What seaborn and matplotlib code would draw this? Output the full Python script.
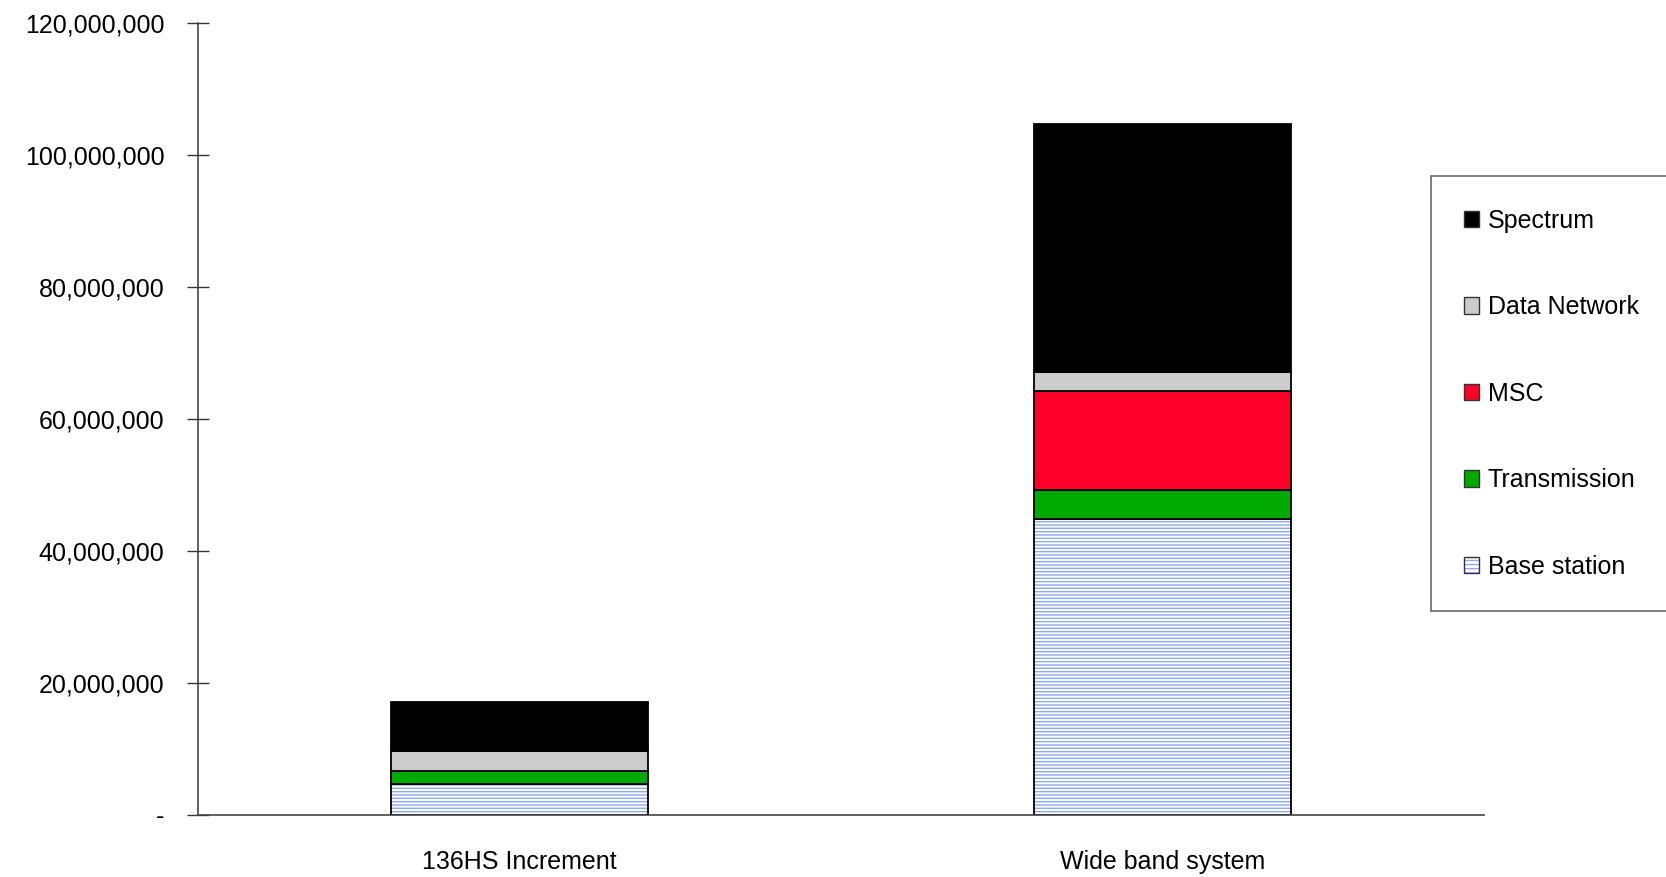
import numpy as np
import matplotlib
matplotlib.use('Agg')
import matplotlib.pyplot as plt
import seaborn as sns
from matplotlib.ticker import FuncFormatter, FixedLocator

sns.set_style('white')
plt.rcParams['font.family'] = ['Liberation Sans', 'DejaVu Sans']
plt.rcParams['hatch.linewidth'] = 1.0
plt.rcParams['text.color'] = 'black'
plt.rcParams['xtick.labelcolor'] = 'black'
plt.rcParams['ytick.labelcolor'] = 'black'

# data
categories = ['136HS Increment', 'Wide band system']
base_station = [4.7e6, 44.9e6]
transmission = [1.9e6, 4.4e6]
msc = [0.0, 15.0e6]
data_network = [3.1e6, 2.9e6]
spectrum = [7.5e6, 37.5e6]

series = [
    ('Base station', base_station, '#ffffff'),
    ('Transmission', transmission, '#00aa00'),
    ('MSC', msc, '#ff0029'),
    ('Data Network', data_network, '#cccccc'),
    ('Spectrum', spectrum, '#000000'),
]
hatch_blue = '#8aa8f5'
fs = 18

fig = plt.figure(figsize=(16.66, 8.77), dpi=100)
ax = fig.add_axes([0.1188, 0.0707, 0.772, 0.9026])

bottom = np.zeros(len(categories))
handles = []
for name, vals, col in series:
    vals = np.array(vals)
    if name == 'Base station':
        # hatch first (edge colour drives the hatch), then a black outline
        sns.barplot(x=categories, y=vals, bottom=bottom, color=col, width=0.4,
                    edgecolor=hatch_blue, linewidth=0, hatch='-----',
                    saturation=1, ax=ax)
        sns.barplot(x=categories, y=vals, bottom=bottom, color='white', fill=False,
                    width=0.4, edgecolor='black', linewidth=1.3, saturation=1, ax=ax)
        h = (plt.Rectangle((0, 0), 1, 1, facecolor='white', edgecolor=hatch_blue,
                           hatch='----', linewidth=0),
             plt.Rectangle((0, 0), 1, 1, fill=False, edgecolor='#333333', linewidth=1))
    else:
        sns.barplot(x=categories, y=vals, bottom=bottom, color=col, width=0.4,
                    edgecolor='black', linewidth=1.3, saturation=1, ax=ax)
        h = plt.Rectangle((0, 0), 1, 1, facecolor=col, edgecolor='#333333', linewidth=1)
    handles.append((name, h))
    bottom = bottom + vals

ax.set_xlim(-0.5, 1.5)
ax.set_ylim(0, 120e6)
ax.set_yticks(np.arange(0, 120e6 + 1, 20e6))
ax.yaxis.set_major_formatter(FuncFormatter(lambda v, p: '-' if v == 0 else f'{v:,.0f}'))
ax.xaxis.set_minor_locator(FixedLocator([-0.5, 0.5, 1.5]))
ax.tick_params(axis='x', which='major', length=0, pad=25, labelsize=fs)
ax.tick_params(axis='x', which='minor', direction='inout', length=18, width=1, color='#333333')
ax.tick_params(axis='y', direction='inout', length=16, width=1, color='#333333',
               pad=16, labelsize=fs, left=True)
ax.set_xlabel('')
ax.set_ylabel('')
for s in ['top', 'right']:
    ax.spines[s].set_visible(False)
for s in ['left', 'bottom']:
    ax.spines[s].set_color('#444444')
    ax.spines[s].set_linewidth(1.2)

hs = [h for _, h in handles][::-1]
ls = [n for n, _ in handles][::-1]
leg = fig.legend(hs, ls, loc='upper left', bbox_to_anchor=(0.859, 0.799),
                 bbox_transform=fig.transFigure, fontsize=fs, frameon=True,
                 fancybox=False, edgecolor='#444444', labelspacing=2.5,
                 handlelength=0.62, handleheight=0.62, handletextpad=0.35,
                 borderpad=1.3, borderaxespad=0)
leg.get_frame().set_linewidth(1.2)

fig.savefig('out.png', dpi=100)
